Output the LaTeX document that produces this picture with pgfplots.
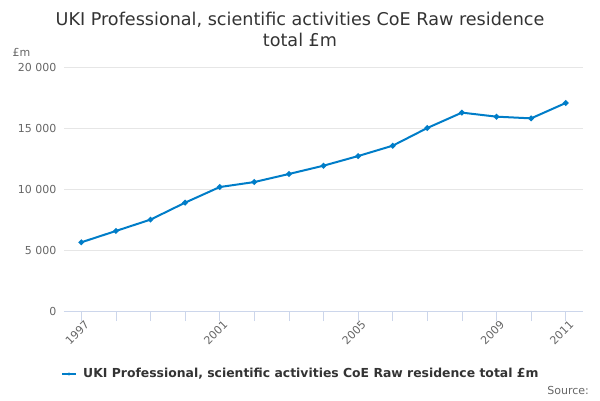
\documentclass[border=0pt]{standalone}
\usepackage{pgfplots}
\pgfplotsset{compat=1.18}
\usepackage{fontspec}
\setmainfont{DejaVu Sans}
\definecolor{ser}{RGB}{0,125,200}
\definecolor{gridc}{RGB}{230,230,230}
\definecolor{axc}{RGB}{204,214,235}
\definecolor{tickc}{RGB}{102,102,102}
\definecolor{titc}{RGB}{51,51,51}
\begin{document}
\begin{tikzpicture}
\useasboundingbox (0pt,0pt) rectangle (600pt,400pt);
\node[font=\fontsize{17.6}{21}\selectfont, text=titc, align=center] at (300pt,371pt) {UKI Professional, scientific activities CoE Raw residence\\total £m};
\node[font=\fontsize{11}{13}\selectfont, text=tickc, anchor=west] at (9pt,348pt) {£m};
\begin{axis}[
  at={(64pt,89pt)}, anchor=south west,
  scale only axis, width=519pt, height=244pt,
  xmin=1996.5, xmax=2011.5, ymin=0, ymax=20000,
  scaled y ticks=false,
  xtick={1997,2001,2005,2009,2011},
  xticklabels={1997,2001,2005,2009,2011},
  minor xtick={1998,1999,2000,2002,2003,2004,2006,2007,2008,2010},
  ytick={0,5000,10000,15000,20000},
  yticklabels={0,5 000,10 000,15 000,20 000},
  axis x line*=bottom, axis y line*=left,
  x axis line style={axc, line width=0.75pt, -},
  y axis line style={draw=none},
  ymajorgrids, grid style={gridc, line width=0.75pt},
  xtick align=outside, ytick style={draw=none},
  major tick length=10pt, minor tick length=10pt,
  xtick style={axc, line width=0.75pt},
  minor x tick style={axc, line width=0.75pt},
  x tick label style={rotate=45, anchor=north east, font=\fontsize{11}{13}\selectfont, text=tickc, inner sep=1pt, xshift=4pt},
  y tick label style={font=\fontsize{11}{13}\selectfont, text=tickc, xshift=-4pt},
  clip=false,
]
\addplot[ser, line width=2pt, mark=*, mark size=1.7pt] coordinates {
(1997,5630) (1998,6560) (1999,7490) (2000,8880) (2001,10160)
(2002,10570) (2003,11230) (2004,11910) (2005,12700) (2006,13550)
(2007,15000) (2008,16260) (2009,15930) (2010,15790) (2011,17050)
};
\end{axis}
\draw[ser, line width=2pt] (62pt,26pt) -- (76pt,26pt);
\fill[ser] (69pt,26pt) circle (1.7pt);
\node[font=\bfseries\fontsize{12.4}{15}\selectfont, text=titc, anchor=west, inner sep=0pt] at (83pt,26pt) {UKI Professional, scientific activities CoE Raw residence total £m};
\node[font=\fontsize{11}{13}\selectfont, text=tickc, anchor=east, inner sep=0pt] at (589pt,10pt) {Source:};
\end{tikzpicture}
\end{document}
